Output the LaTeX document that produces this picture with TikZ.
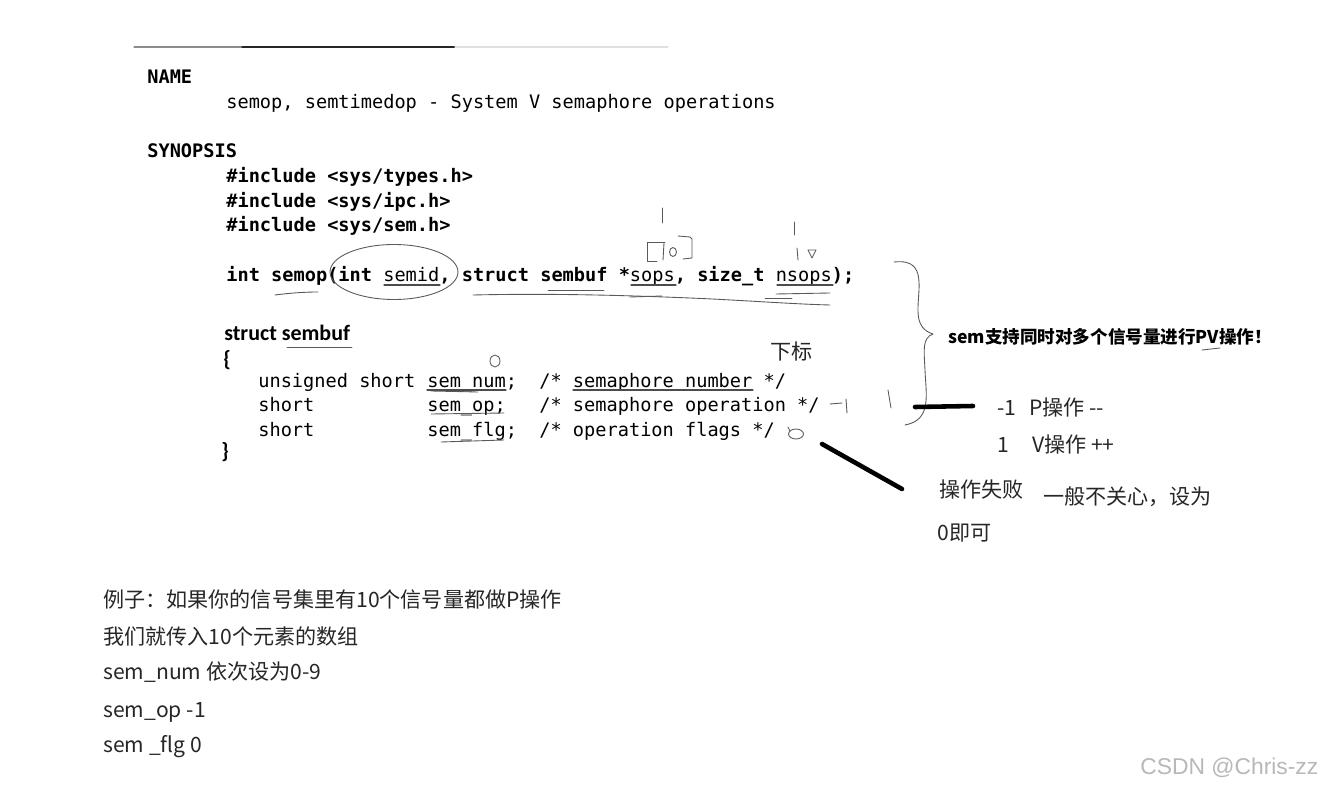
\documentclass[tikz,border=0pt]{standalone}
\usepackage{fontspec}
\setmainfont{Liberation Sans}
\setmonofont{DejaVu Sans Mono}
\newfontfamily\cjk{Noto Sans CJK SC}
\newfontfamily\calib{Carlito}
\usepackage{xcolor}
\usepackage{tikz}
\usetikzlibrary{calc}
\usetikzlibrary{positioning}

\begin{document}
\begin{tikzpicture}[x=0.02cm,y=-0.02cm,node distance=0.3cm,
                    line cap=round,line join=round]
  \tikzstyle{code}=[anchor=west,inner sep=0pt,text height=8pt,text depth=1.2pt,yshift=-1.1pt,
                    font=\ttfamily\fontsize{10.6}{12}\selectfont]
  \tikzstyle{bcode}=[code,font=\ttfamily\bfseries\fontsize{10.6}{12}\selectfont]
  \tikzstyle{note}=[anchor=west,inner sep=0pt,text height=10pt,text depth=1pt,
                    text=black!85,font=\cjk\fontsize{12}{14}\selectfont]
  \tikzstyle{pen}=[draw=black!65,line width=0.5pt]
  \tikzstyle{uline}=[draw=black!70,line width=0.6pt]
  \tikzstyle{marker}=[draw=black,line width=2.6pt]
  \useasboundingbox[fill=white] (0,0) rectangle (1323,790);

  % top rule
  \draw[black!45,line width=0.6pt] (134,47) -- (242,47);
  \draw[black!85,line width=0.6pt] (242,47) -- (455,47);
  \draw[black!12,line width=0.6pt] (455,47) -- (668,47);

  % man page
  \node[bcode] (name) at (147,76) {NAME};
  \node[code] (desc) at (226,101) {semop, semtimedop - System V semaphore operations};
  \node[bcode] (synopsis) at (147,150) {SYNOPSIS};
  \node[bcode] (inc1) at (226,175) {\#include <sys/types.h>};
  \node[bcode] (inc2) at (226,200) {\#include <sys/ipc.h>};
  \node[bcode] (inc3) at (226,224) {\#include <sys/sem.h>};
  \node[bcode] (proto) at (226,274) {int semop(int \mdseries semid\bfseries, struct sembuf *\mdseries sops\bfseries, size\_t \mdseries nsops\bfseries);};
  \draw[uline] (384,285) -- (440,285);
  \draw[uline] (631,285) -- (676,285);
  \draw[uline] (777,285) -- (833,285);

  \node[anchor=west,inner sep=0pt,text height=8.5pt,text depth=1pt,
        font=\calib\bfseries\fontsize{12.5}{14}\selectfont] (sembuf) at (224,334) {struct sembuf};
  \node[anchor=west,inner sep=0pt,font=\calib\bfseries\fontsize{12.5}{14}\selectfont] (lbr) at (223,360) {\{};
  \node[code] (t1) at (258,380) {unsigned short};
  \node[code] (f1) at (427,380) {sem\_num;};
  \node[code] (c1) at (539,380) {/* semaphore number */};
  \node[code] (t2) at (258,404) {short};
  \node[code] (f2) at (427,404) {sem\_op;};
  \node[code] (c2) at (539,404) {/* semaphore operation */};
  \node[code] (t3) at (258,429) {short};
  \node[code] (f3) at (427,429) {sem\_flg;};
  \node[code] (c3) at (539,429) {/* operation flags */};
  \node[anchor=west,inner sep=0pt,font=\calib\bfseries\fontsize{12.5}{14}\selectfont] (rbr) at (221,452) {\}};
  \draw[uline] (427,390) -- (506,390);
  \draw[uline] (573,390) -- (753,390);

  % hand marks
  \draw[pen] (394,272) ellipse [x radius=1.28cm,y radius=0.55cm];
  \draw[pen] (275,295) .. controls (290,293) and (305,292) .. (318,292);
  \draw[pen] (287,347) -- (352,347);
  \draw[pen] (548,290) -- (604,290);
  \draw[pen] (473,295) .. controls (560,293) and (640,296) .. (690,298)
                       .. controls (740,300) and (790,304) .. (830,305);
  \draw[pen] (630,297) -- (662,296);
  \draw[pen] (765,298) -- (792,298);
  \draw[pen] (776,294) -- (830,293);
  \draw[pen] (431,391) -- (478,392);
  \draw[pen] (431,414) -- (504,413);
  \draw[pen] (441,442) -- (504,440);
  % little numbers
  \draw[pen] (662,208) -- (662,223);
  \draw[pen] (665,242) -- (647,242) -- (647,261) -- (657,261);
  \draw[pen] (664,243) -- (663,260);
  \draw[pen] (673,252) ellipse [x radius=0.07cm,y radius=0.09cm];
  \draw[pen] (678,236) -- (690,237) -- (692,239) -- (692,258) -- (683,259);
  \draw[pen] (794,222) -- (794,235);
  \draw[pen] (797,248) -- (798,260);
  \draw[pen] (808,250) -- (816,250) -- (812,258) -- cycle;
  \draw[pen] (495,361) ellipse [x radius=0.1cm,y radius=0.12cm];
  \draw[pen] (830,404) -- (842,403);
  \draw[pen] (846,399) -- (847,413);
  \draw[pen] (796,434) ellipse [x radius=0.15cm,y radius=0.1cm];
  \draw[pen] (788,427) -- (790,431);
  \draw[pen] (888,390) -- (891,408);
  \draw[pen] (1202,350) -- (1220,348);

  % brace
  \draw[pen] (894,262) .. controls (914,260) and (920,268) .. (919,290)
             .. controls (918,310) and (914,328) .. (933,334)
             .. controls (922,338) and (924,350) .. (925,370)
             .. controls (926,395) and (932,420) .. (905,425);

  % notes
  \node[note] (idx) at (770,352) {下标};
  \node[anchor=west,inner sep=0pt,text height=8pt,text depth=1pt,
        font=\cjk\bfseries\fontsize{10}{12}\selectfont] (multi) at (948,337) {sem支持同时对多个信号量进行PV操作！};
  \node[note] (m1) at (997,408) {-1};
  \node[note] (pop) [right=0.24cm of m1] {P操作 -{}-};
  \node[note] (p1) at (997,445) {1};
  \node[note] (vop) [right=0.45cm of p1] {V操作 ++};
  \node[note] (fail) at (939,490) {操作失败};
  \node[note] (care) at (1043,497) {一般不关心，设为};
  \node[note] (zero) at (937,533) {0即可};

  \coordinate (bracetip) at (915,407);
  \coordinate (pend) at (973,406);
  \coordinate (flgtail) at (822,444);
  \coordinate (failend) at (902,489);
  \draw[marker] (bracetip) -- (pend);
  \draw[marker] (flgtail) -- (failend);

  % example
  \node[note] (ex1) at (103,600) {例子：如果你的信号集里有10个信号量都做P操作};
  \node[note] (ex2) at (103,637) {我们就传入10个元素的数组};
  \node[note] (ex3) at (103,672) {sem\_num 依次设为0-9};
  \node[note] (ex4) at (103,710) {sem\_op -1};
  \node[note] (ex5) at (103,745) {sem \_flg 0};

  \node[anchor=west,inner sep=0pt,text=black!28,
        font=\fontsize{13}{15}\selectfont] (mark) at (1140,768) {CSDN @Chris-zz};
\end{tikzpicture}
\end{document}
